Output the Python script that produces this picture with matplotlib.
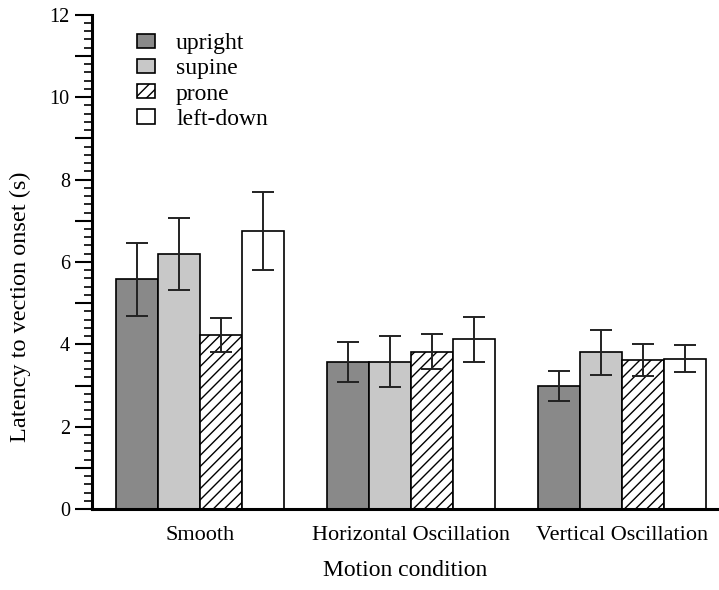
import numpy as np
import matplotlib.pyplot as plt
from matplotlib.ticker import MultipleLocator, FuncFormatter

plt.rcParams['font.family'] = ['Liberation Serif', 'DejaVu Serif']
plt.rcParams['hatch.linewidth'] = 1.0

# Data
conditions = ['Smooth', 'Horizontal Oscillation', 'Vertical Oscillation']
postures = ['upright', 'supine', 'prone', 'left-down']
upright = [5.58, 3.57, 2.99]
supine = [6.20, 3.58, 3.81]
prone = [4.22, 3.82, 3.62]
left_down = [6.75, 4.12, 3.65]
upright_err = [0.88, 0.48, 0.36]
supine_err = [0.87, 0.62, 0.55]
prone_err = [0.41, 0.43, 0.38]
left_down_err = [0.95, 0.54, 0.33]

values = [upright, supine, prone, left_down]
errors = [upright_err, supine_err, prone_err, left_down_err]
colors = ['#898989', '#c8c8c8', 'white', 'white']
hatches = [None, None, '///', None]

fig = plt.figure(figsize=(7.19, 5.9), dpi=100)
ax = fig.add_axes([0.128, 0.137, 0.872, 0.838])

x = np.arange(len(conditions))
width = 0.2
for i in range(4):
    pos = x + (i - 1.5) * width
    ax.bar(pos, values[i], width, color=colors[i], edgecolor='black',
           linewidth=1.2, hatch=hatches[i], label=postures[i], zorder=2)
    ax.errorbar(pos, values[i], yerr=errors[i], fmt='none', ecolor='#222222',
                elinewidth=1.4, capsize=8, capthick=1.4, zorder=3)

ax.set_xlim(-0.512, 2.46)
ax.set_ylim(0, 12)
ax.set_xticks(x)
ax.set_xticklabels(conditions, fontsize=16)
ax.tick_params(axis='x', length=0, pad=12)

ax.yaxis.set_major_locator(MultipleLocator(1))
ax.yaxis.set_minor_locator(MultipleLocator(0.2))
ax.yaxis.set_major_formatter(FuncFormatter(lambda v, p: '%d' % v if int(round(v)) % 2 == 0 else ''))
ax.tick_params(axis='y', which='major', length=12, width=1.5, labelsize=14.5, pad=4)
ax.tick_params(axis='y', which='minor', length=6, width=1.2)

ax.spines['top'].set_visible(False)
ax.spines['right'].set_visible(False)
ax.spines['left'].set_linewidth(2.2)
ax.spines['bottom'].set_linewidth(2.2)

ax.set_ylabel('Latency to vection onset (s)', fontsize=17.5)
ax.yaxis.set_label_coords(-0.097, 0.41)
ax.set_xlabel('Motion condition', fontsize=17, labelpad=11)

ax.legend(loc='upper left', bbox_to_anchor=(0.038, 1.006), frameon=False,
          fontsize=17, handlelength=0.75, handleheight=0.55, handletextpad=0.9,
          labelspacing=0.18)

plt.savefig('out.png', dpi=100)
